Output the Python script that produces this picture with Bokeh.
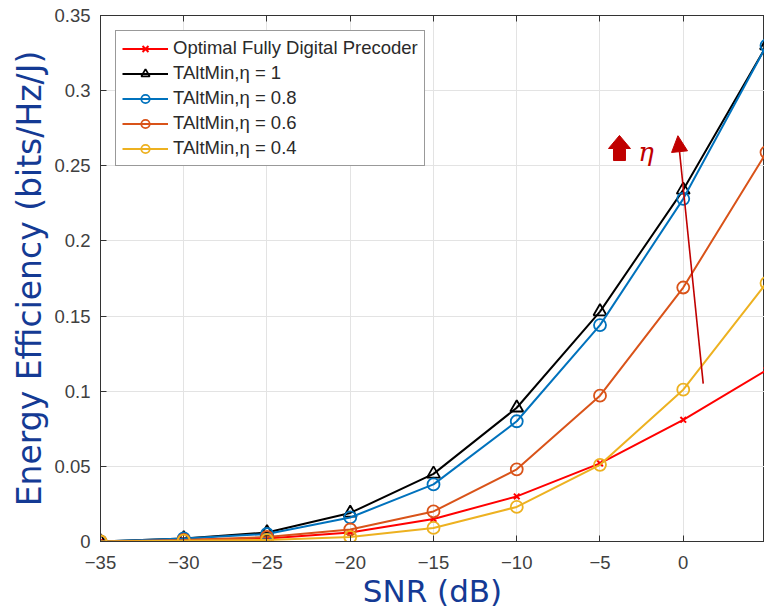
from bokeh.plotting import figure
from bokeh.models import (Range1d, LinearAxis, Legend, LegendItem, Arrow, NormalHead, FixedTicker,
                          Label, PolyAnnotation)
from bokeh.embed import file_html
from bokeh.resources import INLINE

snr = [-35, -30, -25, -20, -15, -10, -5, 0, 5]
optimal = [0.0, 0.001, 0.002, 0.006, 0.015, 0.030, 0.052, 0.081, 0.114]
eta_1 = [0.0, 0.002, 0.006, 0.019, 0.045, 0.089, 0.153, 0.234, 0.330]
eta_08 = [0.0, 0.002, 0.005, 0.016, 0.038, 0.080, 0.144, 0.228, 0.330]
eta_06 = [0.0, 0.001, 0.003, 0.008, 0.020, 0.048, 0.097, 0.169, 0.259]
eta_04 = [0.0, 0.0005, 0.001, 0.003, 0.009, 0.023, 0.051, 0.101, 0.172]
x_ticks = [-35, -30, -25, -20, -15, -10, -5, 0, 5]
y_ticks = [0, 0.05, 0.1, 0.15, 0.2, 0.25, 0.3, 0.35]
labels = ["Optimal Fully Digital Precoder", "TAltMin,\u03b7 = 1", "TAltMin,\u03b7 = 0.8",
          "TAltMin,\u03b7 = 0.6", "TAltMin,\u03b7 = 0.4"]
x_title = "SNR (dB)"
y_title = "Energy Efficiency (bits/Hz/J)"

TITLE_COLOR = "#143A94"
ANNOT = "#C00000"

p = figure(width=764, height=612, frame_width=664, frame_height=526,
           x_range=Range1d(-35, 4.88), y_range=Range1d(0, 0.35),
           output_backend="svg", toolbar_location=None,
           min_border_left=100, min_border_right=0, min_border_top=15, min_border_bottom=71)
p.background_fill_color = "white"
p.border_fill_color = "white"
p.outline_line_color = "#333333"
p.outline_line_width = 1

for ax in (p.xaxis[0], p.yaxis[0]):
    ax.major_tick_in = 6
    ax.major_tick_out = 0
    ax.minor_tick_in = 0
    ax.minor_tick_out = 0
    ax.axis_line_color = "#333333"
    ax.major_tick_line_color = "#333333"
    ax.major_label_text_font = "Liberation Sans"
    ax.major_label_text_font_size = "18.5px"
    ax.major_label_text_color = "#404040"
    ax.axis_label_text_font = "DejaVu Sans"
    ax.axis_label_text_font_style = "normal"
    ax.axis_label_text_color = TITLE_COLOR

p.xaxis.ticker = FixedTicker(ticks=x_ticks)
p.yaxis.ticker = FixedTicker(ticks=y_ticks)
p.yaxis.major_label_overrides = {0: "0", 0.05: "0.05", 0.1: "0.1", 0.15: "0.15", 0.2: "0.2",
                                 0.25: "0.25", 0.3: "0.3", 0.35: "0.35"}
p.xaxis.axis_label = x_title
p.xaxis.axis_label_text_font_size = "31px"
p.xaxis.major_label_standoff = 14
p.xaxis.axis_label_standoff = 1
p.yaxis.axis_label = y_title
p.yaxis.axis_label_text_font_size = "33px"
p.yaxis.major_label_standoff = 10
p.yaxis.axis_label_standoff = 2

top = LinearAxis(ticker=FixedTicker(ticks=[], minor_ticks=x_ticks), major_tick_in=0, major_tick_out=0,
                 minor_tick_in=6, minor_tick_out=0,
                 axis_line_color="#333333", minor_tick_line_color="#333333")
p.add_layout(top, "above")

p.xgrid.ticker = FixedTicker(ticks=x_ticks)
p.ygrid.ticker = FixedTicker(ticks=y_ticks)
p.grid.grid_line_color = "#e3e3e3"
p.grid.grid_line_width = 1

items = []
r1 = p.line(snr, optimal, line_color="#FF0000", line_width=2)
r1m = p.scatter(snr, optimal, marker="x", size=8, line_color="#FF0000", line_width=2)
items.append(LegendItem(label=labels[0], renderers=[r1, r1m]))

series = [(eta_1, "black", "triangle", 13, labels[1]),
          (eta_08, "#0072BD", "circle", 12, labels[2]),
          (eta_06, "#D95319", "circle", 12, labels[3]),
          (eta_04, "#EDB120", "circle", 12, labels[4])]
for ys, c, m, s, lab in series:
    rl = p.line(snr, ys, line_color=c, line_width=2)
    rm = p.scatter(snr, ys, marker=m, size=s, line_color=c, fill_color=None, line_width=1.8)
    items.append(LegendItem(label=lab, renderers=[rl, rm]))

legend = Legend(items=items, location="top_left", margin=15, padding=6, spacing=3,
                label_text_font="Liberation Sans", label_text_font_size="18.5px",
                label_text_color="#2a2a2a", label_height=21, glyph_height=21, glyph_width=46,
                label_standoff=5, border_line_color="#333333", border_line_width=1,
                background_fill_color="white", background_fill_alpha=1)
p.add_layout(legend)

# thin arrow showing the direction of increasing eta
p.add_layout(Arrow(end=NormalHead(size=16, fill_color=ANNOT, line_color=ANNOT),
                   x_start=1.2, y_start=0.105, x_end=-0.32, y_end=0.270,
                   line_color=ANNOT, line_width=1.6))
# small block arrow next to the eta symbol
p.add_layout(PolyAnnotation(xs=[-3.83, -3.17, -3.47, -3.47, -4.19, -4.19, -4.49],
                            ys=[0.2702, 0.2615, 0.2615, 0.2535, 0.2535, 0.2615, 0.2615],
                            xs_units="data", ys_units="data",
                            fill_color=ANNOT, fill_alpha=1, line_color=ANNOT, line_alpha=1,
                            line_width=1))
p.add_layout(Label(x=-2.7, y=0.259, text="\u03b7", text_font="DejaVu Serif",
                   text_font_style="italic", text_font_size="26px", text_color=ANNOT,
                   text_align="left", text_baseline="middle"))

open("out.html", "w").write(file_html(p, INLINE))
